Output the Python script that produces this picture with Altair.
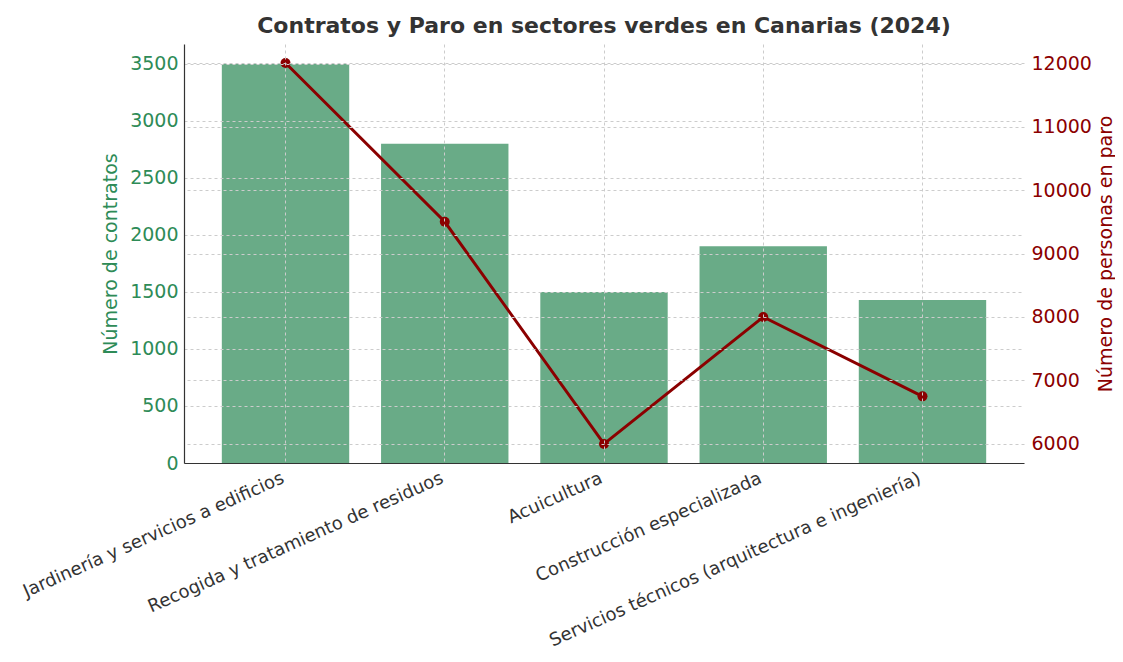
import altair as alt
import pandas as pd

sectores = [
    "Jardinería y servicios a edificios",
    "Recogida y tratamiento de residuos",
    "Acuicultura",
    "Construcción especializada",
    "Servicios técnicos (arquitectura e ingeniería)",
]
contratos = [3500, 2800, 1500, 1900, 1430]
paro = [12000, 9500, 6000, 8000, 6750]

left_ticks = [0, 500, 1000, 1500, 2000, 2500, 3000, 3500]
right_ticks = [6000, 7000, 8000, 9000, 10000, 11000, 12000]

df = pd.DataFrame({"sector": sectores, "contratos": contratos, "paro": paro})

FONT = "DejaVu Sans"
GREEN = "#2e8b57"
RED = "#8b0000"
GRID = "#cccccc"
FS = 19

x = alt.X(
    "sector:N",
    sort=sectores,
    title=None,
    scale=alt.Scale(paddingInner=0.2, paddingOuter=0.2375),
    axis=alt.Axis(
        labelAngle=336,
        labelAlign="right",
        labelBaseline="top",
        labelFontSize=18,
        labelColor="#333333",
        labelPadding=6,
        labelOffset=-6,
        labelLimit=600,
        grid=True,
        gridDash=[3, 3],
        gridColor=GRID,
        gridWidth=1,
        ticks=False,
        domainColor="#333333",
        domainWidth=1.2,
        bandPosition=0.5,
        zindex=1,
    ),
)

bars = alt.Chart(df).mark_bar(color="#69ab87").encode(
    x=x,
    y=alt.Y(
        "contratos:Q",
        scale=alt.Scale(domain=[0, 3675], nice=False, zero=True),
        axis=alt.Axis(
            orient="left",
            values=left_ticks,
            format="d",
            title="Número de contratos",
            titleColor=GREEN,
            titleFontSize=FS,
            titleFontWeight="normal",
            titlePadding=9,
            labelColor=GREEN,
            labelFontSize=FS,
            labelPadding=6,
            ticks=False,
            domainColor="#333333",
            domainWidth=1.2,
            grid=True,
            gridDash=[3, 3],
            gridColor=GRID,
            gridWidth=1,
            zindex=1,
        ),
    ),
)

base = alt.Chart(df).encode(
    x=alt.X("sector:N", sort=sectores),
    y=alt.Y(
        "paro:Q",
        scale=alt.Scale(domain=[5700, 12300], nice=False, zero=False),
        axis=alt.Axis(
            orient="right",
            values=right_ticks,
            format="d",
            title="Número de personas en paro",
            titleColor=RED,
            titleFontSize=FS,
            titleFontWeight="normal",
            titleAngle=270,
            titleBaseline="top",
            titlePadding=5,
            labelColor=RED,
            labelFontSize=FS,
            labelPadding=7,
            ticks=False,
            domain=False,
            grid=True,
            gridDash=[3, 3],
            gridColor=GRID,
            gridWidth=1,
            zindex=1,
        ),
    ),
)
line = base.mark_line(color=RED, strokeWidth=3)
points = base.mark_circle(color=RED, size=100, opacity=1)

chart = (
    alt.layer(bars, line + points)
    .resolve_scale(y="independent")
    .properties(
        width=840,
        height=419,
        title=alt.TitleParams(
            "Contratos y Paro en sectores verdes en Canarias (2024)",
            fontSize=22,
            fontWeight="bold",
            color="#333333",
            font=FONT,
            anchor="middle",
            offset=6,
        ),
        autosize=alt.AutoSizeParams(type="none"),
        padding={"left": 176, "top": 36, "right": 91, "bottom": 191},
    )
    .configure_view(stroke=None)
    .configure_axis(labelFont=FONT, titleFont=FONT)
)

chart.save("out.html", embed_options={"renderer": "svg", "actions": False})
